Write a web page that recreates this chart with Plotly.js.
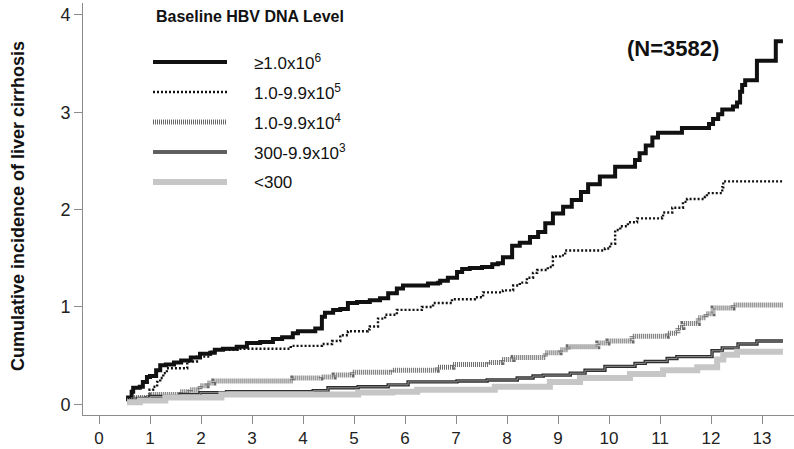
<!DOCTYPE html>
<html><head><meta charset="utf-8">
<script src="https://cdn.plot.ly/plotly-3.0.1.min.js"></script>
<style>html,body{margin:0;padding:0;background:#fff}</style>
</head><body><div id="chart" style="width:794px;height:449px"></div>
<script>
// ---- data (years of follow-up vs cumulative incidence, %) ----
const seriesLabels = ["≥1.0x10<sup>6</sup>", "1.0-9.9x10<sup>5</sup>", "1.0-9.9x10<sup>4</sup>", "300-9.9x10<sup>3</sup>", "&lt;300"];
const legendTitle = "Baseline HBV DNA Level";
const yTitle = "Cumulative incidence of liver cirrhosis";
const nLabel = "(N=3582)";
const xTicks = [0,1,2,3,4,5,6,7,8,9,10,11,12,13];
const yTicks = [0,1,2,3,4];

const yrs_ge1e6 = [0.55,0.57,0.64,0.67,0.80,0.86,0.94,1.00,1.12,1.20,1.31,1.47,1.61,1.80,1.98,2.18,2.27,2.43,2.70,2.90,3.16,3.41,3.59,3.80,3.90,4.24,4.37,4.43,4.59,4.73,4.88,5.06,5.31,5.51,5.67,5.84,5.96,6.45,6.65,6.69,6.84,7.02,7.12,7.27,7.51,7.71,7.82,7.92,8.10,8.25,8.45,8.61,8.75,8.90,9.10,9.27,9.45,9.59,9.82,10.12,10.51,10.60,10.72,10.85,10.96,11.43,11.96,12.04,12.14,12.22,12.43,12.51,12.57,12.61,12.67,12.90,13.27,13.41];
const cum_ge1e6 = [0.03,0.07,0.13,0.17,0.18,0.23,0.28,0.29,0.35,0.40,0.41,0.43,0.45,0.48,0.52,0.53,0.56,0.57,0.59,0.63,0.64,0.67,0.69,0.73,0.75,0.78,0.90,0.94,0.97,0.98,1.04,1.05,1.07,1.09,1.14,1.19,1.22,1.24,1.25,1.27,1.30,1.36,1.39,1.40,1.41,1.44,1.45,1.51,1.63,1.66,1.72,1.77,1.86,1.96,2.03,2.10,2.18,2.26,2.34,2.44,2.51,2.58,2.66,2.74,2.79,2.84,2.88,2.93,2.98,3.03,3.06,3.10,3.21,3.28,3.33,3.53,3.73,3.73];

const yrs_1e5 = [0.55,0.86,0.99,1.06,1.14,1.20,1.26,1.33,1.73,1.92,2.18,2.31,2.75,3.76,4.37,4.57,4.73,4.88,5.27,5.31,5.47,5.61,5.84,6.33,6.55,6.92,7.37,7.53,7.92,8.12,8.25,8.39,8.51,8.59,8.80,8.90,9.04,9.14,9.92,10.02,10.12,10.22,10.37,10.55,11.04,11.06,11.24,11.45,11.53,11.88,11.92,12.22,12.24,13.41];
const cum_1e5 = [0.04,0.07,0.15,0.18,0.23,0.27,0.32,0.37,0.44,0.49,0.54,0.56,0.57,0.60,0.62,0.65,0.71,0.75,0.77,0.80,0.88,0.92,0.97,1.00,1.04,1.08,1.10,1.15,1.17,1.22,1.25,1.30,1.35,1.38,1.41,1.52,1.53,1.58,1.60,1.65,1.79,1.83,1.87,1.91,1.92,1.97,2.02,2.08,2.11,2.13,2.17,2.23,2.29,2.29];

const yrs_1e4 = [0.55,0.67,0.98,1.59,1.78,1.98,2.12,2.25,3.80,4.35,4.61,4.96,5.75,6.63,6.94,7.63,7.90,8.12,8.75,9.04,9.20,9.78,9.98,10.45,11.14,11.35,11.45,11.75,11.90,12.04,12.43,13.41];
const cum_1e4 = [0.04,0.07,0.10,0.13,0.15,0.19,0.22,0.24,0.27,0.28,0.30,0.33,0.35,0.38,0.41,0.43,0.46,0.48,0.53,0.56,0.59,0.63,0.65,0.70,0.73,0.79,0.83,0.89,0.93,0.99,1.02,1.02];

const yrs_300 = [0.55,0.75,1.00,1.59,1.98,2.50,4.20,4.49,5.08,5.67,6.06,7.02,7.61,8.20,8.51,8.71,9.24,9.53,9.92,10.51,10.71,11.14,11.33,12.02,12.22,12.53,12.90,13.41];
const cum_300 = [0.03,0.06,0.08,0.10,0.12,0.13,0.14,0.17,0.18,0.20,0.23,0.24,0.25,0.27,0.29,0.30,0.32,0.35,0.39,0.42,0.44,0.47,0.49,0.55,0.58,0.62,0.65,0.65];

const yrs_lt300 = [0.55,0.80,1.30,2.40,5.08,5.75,6.24,7.76,8.84,9.43,10.41,11.06,11.73,12.12,12.24,12.51,13.41];
const cum_lt300 = [0.02,0.04,0.07,0.10,0.12,0.13,0.15,0.18,0.23,0.27,0.31,0.35,0.38,0.46,0.51,0.54,0.54];

// ---- styles ----
const W = 794, H = 449, ML = 83, MR = 0, MT = 3, MB = 34;
const styles = [
  {color:'#111111', width:4},
  {color:'#111111', width:2.4, dash:'2px,2px'},
  {color:'#6a6a6a', width:5, dash:'1px,1px'},
  {color:'#2e2e2e', width:3.4},
  {color:'#c6c6c6', width:6}
];
const innerStyle = {color:'#9a9a9a', width:0.9};

const xs = [yrs_ge1e6, yrs_1e5, yrs_1e4, yrs_300, yrs_lt300];
const ys = [cum_ge1e6, cum_1e5, cum_1e4, cum_300, cum_lt300];

const traces = [];
for (let i = 0; i < 5; i++) {
  traces.push({x: xs[i], y: ys[i], type:'scatter', mode:'lines', line: Object.assign({shape:'hv'}, styles[i]), name: seriesLabels[i], hoverinfo:'skip'});
  if (i === 3) traces.push({x: xs[i], y: ys[i], type:'scatter', mode:'lines', line: Object.assign({shape:'hv'}, innerStyle), hoverinfo:'skip'});
}

const px = v => (v - ML) / (W - ML - MR);
const py = v => (H - MB - v) / (H - MT - MB);

const shapes = [], annotations = [];
const legY = [62, 92, 122, 152, 182];
for (let i = 0; i < 5; i++) {
  shapes.push({type:'line', xref:'paper', yref:'paper', x0:px(153), x1:px(227), y0:py(legY[i]), y1:py(legY[i]), line: styles[i]});
  if (i === 3) shapes.push({type:'line', xref:'paper', yref:'paper', x0:px(153), x1:px(227), y0:py(legY[i]), y1:py(legY[i]), line: innerStyle});
  annotations.push({xref:'paper', yref:'paper', x:px(252), y:py(legY[i]), xanchor:'left', yanchor:'middle', showarrow:false, text: seriesLabels[i], font:{family:'Liberation Sans, Arial, sans-serif', size:17, color:'#111'}});
}
annotations.push({xref:'paper', yref:'paper', x:px(154), y:py(17), xanchor:'left', yanchor:'middle', showarrow:false, text:'<b>'+legendTitle+'</b>', font:{family:'Liberation Sans, Arial, sans-serif', size:16, color:'#111'}});
annotations.push({xref:'paper', yref:'paper', x:px(673), y:py(49), xanchor:'center', yanchor:'middle', showarrow:false, text:'<b>'+nLabel+'</b>', font:{family:'Liberation Sans, Arial, sans-serif', size:22, color:'#111'}});
annotations.push({xref:'paper', yref:'paper', x:px(18), y:py(206), xanchor:'center', yanchor:'middle', textangle:-90, showarrow:false, text:'<b>'+yTitle+'</b>', font:{family:'Liberation Sans, Arial, sans-serif', size:18, color:'#111'}});

const layout = {
  width: W, height: H,
  margin: {l:ML, r:MR, t:MT, b:MB, pad:0},
  paper_bgcolor:'#fff', plot_bgcolor:'#fff',
  showlegend:false,
  xaxis: {range:[-0.314, 13.627], tickvals:xTicks, ticktext:xTicks.map(String), showgrid:false, zeroline:false,
          showline:true, linecolor:'#8c8c8c', linewidth:1, ticks:'outside', ticklen:8, tickcolor:'#8c8c8c', tickwidth:1,
          tickfont:{family:'Liberation Sans, Arial, sans-serif', size:17, color:'#222'}, fixedrange:true},
  yaxis: {range:[-0.110, 4.123], tickvals:yTicks, ticktext:yTicks.map(String), showgrid:false, zeroline:false,
          showline:true, linecolor:'#8c8c8c', linewidth:1, ticks:'outside', ticklen:8, tickcolor:'#8c8c8c', tickwidth:1,
          tickfont:{family:'Liberation Sans, Arial, sans-serif', size:18, color:'#222'}, fixedrange:true},
  shapes: shapes,
  annotations: annotations
};
Plotly.newPlot('chart', traces, layout, {staticPlot:true, displayModeBar:false});
</script>
</body></html>
